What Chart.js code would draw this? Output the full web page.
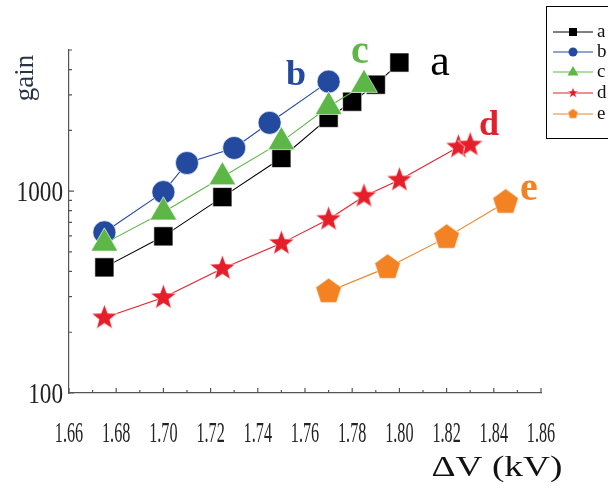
<!DOCTYPE html>
<html><head><meta charset="utf-8">
<script src="https://cdn.jsdelivr.net/npm/chart.js@4/dist/chart.umd.min.js"></script>
<style>html,body{margin:0;padding:0;background:#fff;} canvas{display:block}</style>
</head><body>
<canvas id="c" width="608" height="491"></canvas>
<script>
// ---------------- data ----------------
const seriesNames = ['a', 'b', 'c', 'd', 'e'];
const xA = [1.675, 1.70, 1.725, 1.75, 1.77, 1.78, 1.79, 1.80];
const yA = [419, 597, 934, 1459, 2307, 2773, 3367, 4334];
const xB = [1.675, 1.70, 1.71, 1.73, 1.745, 1.77];
const yB = [625, 989, 1378, 1636, 2179, 3487];
const xC = [1.675, 1.70, 1.725, 1.75, 1.77, 1.785];
const yC = [551, 786, 1174, 1753, 2617, 3367];
const xD = [1.675, 1.70, 1.725, 1.75, 1.77, 1.785, 1.80, 1.825, 1.83];
const yD = [236, 297, 414, 551, 726, 944, 1135, 1655, 1694];
const xE = [1.77, 1.795, 1.82, 1.845];
const yE = [318, 419, 590, 881];
const xTickLabels = ['1.66','1.68','1.70','1.72','1.74','1.76','1.78','1.80','1.82','1.84','1.86'];
const yTickLabels = ['100', '1000'];
const xTitle = 'ΔV (kV)';
const yTitle = 'gain';

// ---------------- styles ----------------
const colors = ['#000000', '#234a9f', '#5cb746', '#e51f2a', '#f28222'];

function makeStar(R, color) {
  const s = Math.ceil(2 * R + 4), c = document.createElement('canvas');
  c.width = s; c.height = s;
  const g = c.getContext('2d'); const cx = s / 2, cy = s / 2;
  g.beginPath();
  for (let i = 0; i < 10; i++) {
    const r = i % 2 === 0 ? R : R * 0.42;
    const a = -Math.PI / 2 + i * Math.PI / 5;
    const px = cx + r * Math.cos(a), py = cy + r * Math.sin(a);
    i === 0 ? g.moveTo(px, py) : g.lineTo(px, py);
  }
  g.closePath(); g.fillStyle = color; g.fill();
  g.strokeStyle = 'rgba(255,255,255,0.8)'; g.lineWidth = 0.8; g.stroke();
  return c;
}
function makePentagon(R, color) {
  const s = Math.ceil(2 * R + 4), c = document.createElement('canvas');
  c.width = s; c.height = s;
  const g = c.getContext('2d'); const cx = s / 2, cy = s / 2;
  g.beginPath();
  for (let i = 0; i < 5; i++) {
    const a = -Math.PI / 2 + i * 2 * Math.PI / 5;
    const px = cx + R * Math.cos(a), py = cy + R * Math.sin(a);
    i === 0 ? g.moveTo(px, py) : g.lineTo(px, py);
  }
  g.closePath(); g.fillStyle = color; g.fill();
  g.strokeStyle = 'rgba(255,255,255,0.8)'; g.lineWidth = 0.8; g.stroke();
  return c;
}
const starBig = makeStar(13.5, colors[3]);
const pentBig = makePentagon(13.5, colors[4]);
const starSmall = makeStar(6, colors[3]);
const pentSmall = makePentagon(5.5, colors[4]);

const xs = [xA, xB, xC, xD, xE];
const ys = [yA, yB, yC, yD, yE];
const pointStyles = ['rect', 'circle', 'triangle', starBig, pentBig];
const pointRadii = [13.5, 11.5, 15.5, 13, 13];

const datasets = seriesNames.map((n, i) => ({
  label: n,
  data: xs[i].map((x, k) => ({ x: x, y: ys[i][k] })),
  showLine: true,
  borderColor: colors[i],
  backgroundColor: colors[i],
  borderWidth: 1.1,
  pointStyle: pointStyles[i],
  pointRadius: pointRadii[i],
  pointHoverRadius: pointRadii[i],
  pointBackgroundColor: colors[i],
  pointBorderColor: 'rgba(255,255,255,0.8)',
  pointBorderWidth: 0.8,
  order: 5 - i,
  clip: false
}));

function drawScaled(ctx, text, x, y, font, color, align, sx) {
  ctx.save();
  ctx.font = font; ctx.fillStyle = color; ctx.textBaseline = 'alphabetic';
  const w = ctx.measureText(text).width * sx;
  let left = x;
  if (align === 'center') left = x - w / 2;
  else if (align === 'right') left = x - w;
  ctx.translate(left, y); ctx.scale(sx, 1);
  ctx.textAlign = 'left';
  ctx.fillText(text, 0, 0);
  ctx.restore();
}

const decor = {
  id: 'decor',
  afterDraw(chart) {
    const ctx = chart.ctx, X = chart.scales.x, Y = chart.scales.y;
    const x0 = X.left, yb = Y.bottom;
    ctx.save();
    ctx.strokeStyle = '#555'; ctx.lineWidth = 1.2;
    // x ticks (inward)
    const xv = xTickLabels.map(Number);
    ctx.beginPath();
    xv.forEach((v, i) => {
      const p = X.getPixelForValue(v);
      ctx.moveTo(p, yb); ctx.lineTo(p, yb - 5);
      if (i < xv.length - 1) {
        const m = X.getPixelForValue((v + xv[i + 1]) / 2);
        ctx.moveTo(m, yb); ctx.lineTo(m, yb - 3);
      }
    });
    // y ticks (inward)
    for (let d = 100; d <= 1000; d *= 10) {
      for (let k = 1; k <= 9; k++) {
        const v = k * d;
        if (v < Y.min || v > Y.max) continue;
        const p = Y.getPixelForValue(v);
        ctx.moveTo(x0, p); ctx.lineTo(x0 + (k === 1 ? 5 : 3), p);
      }
    }
    ctx.stroke();
    // tick labels
    xTickLabels.forEach(t => {
      drawScaled(ctx, t, X.getPixelForValue(Number(t)), yb + 49, '29px "Liberation Serif"', '#222', 'center', 0.56);
    });
    yTickLabels.forEach(t => {
      drawScaled(ctx, t, x0 - 6, Y.getPixelForValue(Number(t)) + 10, '29px "Liberation Serif"', '#222', 'right', 0.8);
    });
    // axis titles
    ctx.font = '30px "Liberation Serif"';
    const tw = ctx.measureText(xTitle).width;
    drawScaled(ctx, xTitle, 497, 476, '30px "Liberation Serif"', '#111', 'center', 131 / tw);
    ctx.save();
    ctx.translate(33, 78); ctx.rotate(-Math.PI / 2);
    ctx.font = '27px "Liberation Serif"'; ctx.fillStyle = '#2b3445';
    ctx.textAlign = 'center'; ctx.textBaseline = 'alphabetic';
    ctx.fillText(yTitle, 0, 0);
    ctx.restore();
    // series annotations
    const ann = [
      { x: 440, y: 75, font: '44px "Liberation Serif"' },
      { x: 296, y: 85, font: 'bold 36px "Liberation Serif"' },
      { x: 360, y: 63, font: 'bold 40px "Liberation Serif"' },
      { x: 489, y: 135, font: 'bold 36px "Liberation Serif"' },
      { x: 529, y: 200, font: 'bold 40px "Liberation Serif"' }
    ];
    ann.forEach((a, i) => {
      ctx.font = a.font; ctx.fillStyle = colors[i];
      ctx.textAlign = 'center'; ctx.textBaseline = 'alphabetic';
      ctx.fillText(seriesNames[i], a.x, a.y);
    });
    // legend box
    ctx.strokeStyle = '#000'; ctx.lineWidth = 1;
    ctx.strokeRect(546.5, 6.5, 80, 132);
    const ly = [32, 52, 72, 93, 114];
    seriesNames.forEach((n, i) => {
      const y = ly[i];
      ctx.strokeStyle = colors[i]; ctx.lineWidth = 1;
      ctx.beginPath(); ctx.moveTo(553, y); ctx.lineTo(593, y); ctx.stroke();
      ctx.fillStyle = colors[i];
      const cx = 573;
      if (i === 0) ctx.fillRect(cx - 4, y - 4, 8, 8);
      else if (i === 1) { ctx.beginPath(); ctx.arc(cx, y, 4.5, 0, Math.PI * 2); ctx.fill(); }
      else if (i === 2) { ctx.beginPath(); ctx.moveTo(cx, y - 6); ctx.lineTo(cx + 5.5, y + 3.5); ctx.lineTo(cx - 5.5, y + 3.5); ctx.closePath(); ctx.fill(); }
      else if (i === 3) ctx.drawImage(starSmall, cx - starSmall.width / 2, y - starSmall.height / 2);
      else ctx.drawImage(pentSmall, cx - pentSmall.width / 2, y - pentSmall.height / 2);
      ctx.font = '19px "Liberation Serif"'; ctx.fillStyle = '#111';
      ctx.textAlign = 'left'; ctx.textBaseline = 'middle';
      ctx.fillText(n, 597, y);
    });
    ctx.restore();
  }
};

new Chart(document.getElementById('c'), {
  type: 'scatter',
  data: { datasets: datasets },
  options: {
    responsive: false,
    animation: false,
    layout: { padding: { left: 69, right: 67, top: 50, bottom: 98 } },
    plugins: { legend: { display: false }, tooltip: { enabled: false } },
    scales: {
      x: { type: 'linear', min: 1.66, max: 1.86,
           grid: { display: false, drawTicks: false }, ticks: { display: false },
           border: { display: true, color: '#555', width: 1.2 } },
      y: { type: 'logarithmic', min: 100, max: 5000,
           grid: { display: false, drawTicks: false }, ticks: { display: false },
           border: { display: true, color: '#555', width: 1.2 } }
    }
  },
  plugins: [decor]
});
</script>
</body></html>
